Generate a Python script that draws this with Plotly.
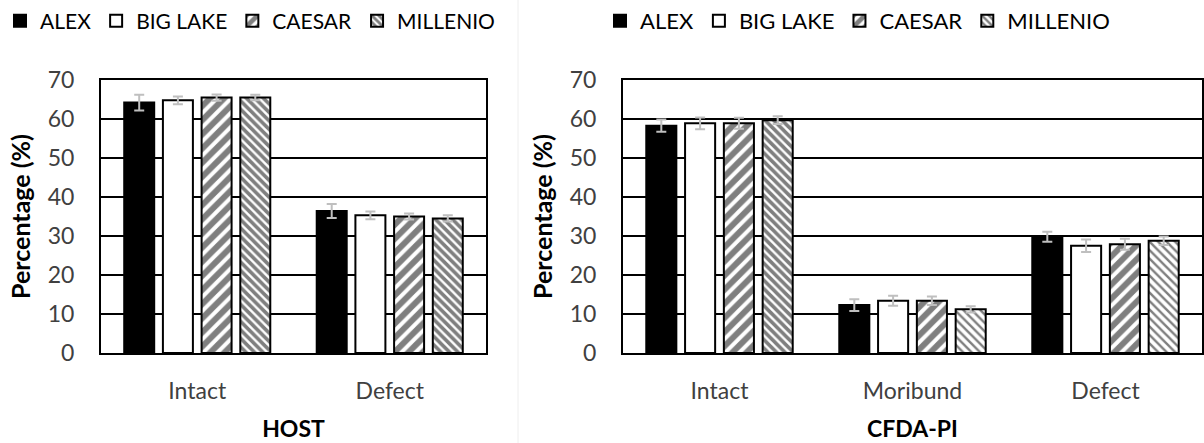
import plotly.graph_objects as go

varieties = ["ALEX", "BIG LAKE", "CAESAR", "MILLENIO"]

host_categories = ["Intact", "Defect"]
host_values = {
    "ALEX": [64.2, 36.4],
    "BIG LAKE": [64.8, 35.3],
    "CAESAR": [65.5, 35.0],
    "MILLENIO": [65.5, 34.5],
}
host_errors = {
    "ALEX": [2.0, 1.8],
    "BIG LAKE": [1.0, 1.0],
    "CAESAR": [0.8, 0.8],
    "MILLENIO": [0.7, 0.8],
}

cfda_categories = ["Intact", "Moribund", "Defect"]
cfda_values = {
    "ALEX": [58.3, 12.3, 29.8],
    "BIG LAKE": [58.9, 13.4, 27.5],
    "CAESAR": [58.9, 13.4, 27.9],
    "MILLENIO": [59.7, 11.2, 28.8],
}
cfda_errors = {
    "ALEX": [1.6, 1.5, 1.3],
    "BIG LAKE": [1.5, 1.3, 1.6],
    "CAESAR": [1.4, 1.1, 1.4],
    "MILLENIO": [1.0, 0.8, 1.1],
}

y_ticks = [0, 10, 20, 30, 40, 50, 60, 70]

FONT = "Lato"
TXT = "#404040"
FS = 23

def marker_for(name, light=None):
    m = dict(line=dict(color="black", width=2))
    if name == "ALEX":
        m["color"] = "black"
    elif name == "BIG LAKE":
        m["color"] = "white"
    elif name == "CAESAR":
        m["color"] = "white"
        m["pattern"] = dict(shape="/", fgcolor="black", bgcolor="white",
                            size=10, solidity=0.6, fillmode="overlay")
    else:
        sol = 0.6 if light is None else light
        m["color"] = "white"
        m["pattern"] = dict(shape="\\", fgcolor="black", bgcolor="white",
                            size=6, solidity=sol, fillmode="overlay")
    return m

fig = go.Figure()

for name in varieties:
    fig.add_trace(go.Bar(
        x=host_categories, y=host_values[name], name=name,
        marker=marker_for(name),
        error_y=dict(type="data", array=host_errors[name], color="#bfbfbf",
                     thickness=2, width=5),
        xaxis="x", yaxis="y", legend="legend",
    ))

for name in varieties:
    fig.add_trace(go.Bar(
        x=cfda_categories, y=cfda_values[name], name=name,
        marker=marker_for(name, light=[0.6, 0.4, 0.4] if name == "MILLENIO" else None),
        error_y=dict(type="data", array=cfda_errors[name], color="#bfbfbf",
                     thickness=2, width=5),
        xaxis="x2", yaxis="y2", legend="legend2",
    ))

W, H = 1204, 443
ydom = [1 - 353 / H, 1 - 80 / H]

def xaxis_cfg(dom, title):
    return dict(domain=dom, anchor="y" if title == "HOST" else "y2",
                showgrid=False, showline=True, mirror=True, linecolor="black",
                linewidth=2, ticks="", ticklabelstandoff=16,
                tickfont=dict(family=FONT, size=FS, color=TXT),
                title=dict(text="<b>" + title + "</b>", standoff=18,
                           font=dict(family=FONT, size=FS, color="black")))

def yaxis_cfg(anchor):
    return dict(domain=ydom, anchor=anchor, range=[0, 70], tickvals=y_ticks,
                showgrid=True, gridcolor="black", gridwidth=2,
                zeroline=False, showline=True, mirror=True, linecolor="black",
                linewidth=2, ticks="", ticklabelstandoff=20,
                tickfont=dict(family=FONT, size=FS, color=TXT),
                title=dict(text="<b>Percentage (%)</b>", standoff=10,
                           font=dict(family=FONT, size=FS + 2, color="black")))

def legend_cfg(x, fs):
    return dict(orientation="h", yanchor="middle", y=1 - 21 / H, x=x,
                xref="container", yref="container", xanchor="left",
                font=dict(family=FONT, size=fs, color="black"),
                bgcolor="rgba(0,0,0,0)", itemclick=False, traceorder="normal",
                itemwidth=30)

fig.update_layout(
    width=W, height=H,
    margin=dict(l=0, r=0, t=0, b=0, autoexpand=False),
    paper_bgcolor="white", plot_bgcolor="white",
    barmode="group", bargap=0.196, bargroupgap=0.225,
    xaxis=xaxis_cfg([101 / W, 486 / W], "HOST"),
    yaxis=yaxis_cfg("x"),
    xaxis2=xaxis_cfg([623 / W, 1202 / W], "CFDA-PI"),
    yaxis2=yaxis_cfg("x2"),
    legend=legend_cfg(0.0, 21),
    legend2=legend_cfg(600 / W, 22),
    shapes=[dict(type="line", xref="paper", yref="paper", x0=518 / W, x1=518 / W,
                 y0=0, y1=1, line=dict(color="#eeeeee", width=1))],
)

fig.write_html("out.html", config={"displayModeBar": False},
               post_script="document.body.style.margin='0';document.body.style.overflow='hidden';")
